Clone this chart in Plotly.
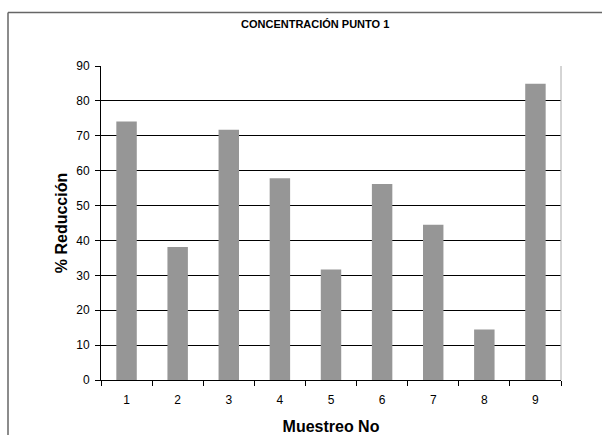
import plotly.graph_objects as go

# Sampling number and percentage reduction for point 1
muestreos = ["1", "2", "3", "4", "5", "6", "7", "8", "9"]
reduccion = [74.1, 38.1, 71.7, 57.8, 31.7, 56.2, 44.5, 14.5, 84.9]

W, H = 602, 435
L, R, T, B = 101, 41, 65.5, 55
pw, ph = W - L - R, H - T - B


def px_x(x):
    return (x - L) / pw


def px_y(y):
    return (H - B - y) / ph


font = "Liberation Sans, Arial, sans-serif"

fig = go.Figure(
    go.Bar(
        x=muestreos,
        y=reduccion,
        marker=dict(color="#969696", line=dict(width=0)),
    )
)

fig.update_layout(
    width=W,
    height=H,
    margin=dict(l=L, r=R, t=T, b=B),
    paper_bgcolor="white",
    plot_bgcolor="white",
    bargap=0.6,
    showlegend=False,
    font=dict(family=font, color="black", size=12),
)

fig.update_xaxes(
    type="category",
    automargin=False,
    tickson="boundaries",
    ticks="outside",
    ticklen=5,
    tickcolor="black",
    showline=True,
    linecolor="black",
    linewidth=1,
    showgrid=False,
    tickfont=dict(size=12),
    ticklabelstandoff=9,
    title=dict(text="<b>Muestreo No</b>", font=dict(size=16), standoff=14),
)

fig.update_yaxes(
    range=[0, 90],
    automargin=False,
    dtick=10,
    ticks="outside",
    ticklen=5,
    tickcolor="black",
    showline=True,
    linecolor="black",
    linewidth=1,
    showgrid=True,
    gridcolor="black",
    gridwidth=1,
    zeroline=False,
    tickfont=dict(size=12),
    ticklabelstandoff=3,
    title=dict(text="<b>% Reducción</b>", font=dict(size=16), standoff=4),
)

# plot-area right edge
fig.add_shape(type="line", xref="paper", yref="paper", x0=1, x1=1, y0=0, y1=1,
              line=dict(color="#aaaaaa", width=1))

# outer chart frame (left and top edges)
fig.add_shape(type="line", xref="paper", yref="paper",
              x0=px_x(8), x1=px_x(8), y0=px_y(12), y1=px_y(440),
              line=dict(color="#666666", width=1.5))
fig.add_shape(type="line", xref="paper", yref="paper",
              x0=px_x(8), x1=px_x(605), y0=px_y(12), y1=px_y(12),
              line=dict(color="#666666", width=1.5))

fig.add_annotation(
    text="<b>CONCENTRACIÓN PUNTO 1</b>",
    xref="paper", yref="paper",
    x=px_x(315), y=px_y(23),
    showarrow=False,
    font=dict(size=11, family=font),
    xanchor="center", yanchor="middle",
)

fig.write_html("out.html")
